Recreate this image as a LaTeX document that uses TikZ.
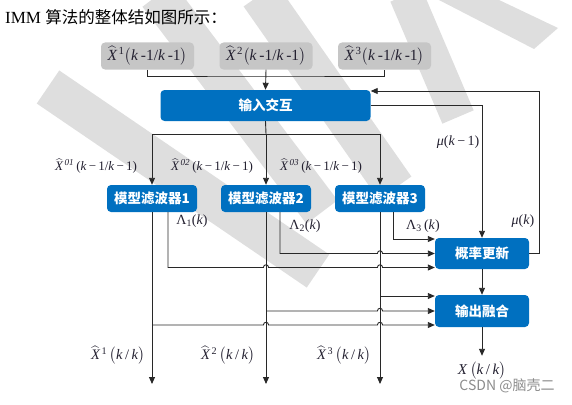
\RequirePackage{fix-cm}
\documentclass[tikz,border=0pt]{standalone}
\usepackage{amsmath}
\usepackage{fontspec}
\setmainfont{Liberation Serif}
\newfontfamily\cjk{Noto Sans CJK SC}
\usetikzlibrary{arrows.meta,calc}
\definecolor{ctrlblue}{RGB}{0,112,192}
\definecolor{inputgray}{RGB}{198,198,198}
\definecolor{wmgray}{RGB}{222,222,222}
\definecolor{linecol}{RGB}{40,40,40}
\definecolor{mathcol}{RGB}{35,32,48}
\definecolor{csdngray}{RGB}{140,140,140}

\newcommand{\hatX}[1]{$\widehat{\textit{X}}\kern1.5pt$\textsuperscript{#1}}
\newcommand{\kk}{\textit{k}}

\tikzset{
  inbox/.style={fill=inputgray, rounded corners=4pt, minimum width=93pt,
    minimum height=27pt, inner sep=0pt, text=mathcol, font=\fontsize{15.5}{17}\selectfont},
  blkbox/.style={fill=ctrlblue, text=white, rounded corners=4pt, inner sep=0pt,
    font=\cjk\bfseries\fontsize{13.5}{15}\selectfont},
  lbl/.style={text=mathcol, inner sep=0pt, font=\fontsize{14}{16}\selectfont},
  flow/.style={draw=linecol, line width=0.9pt},
  hop/.style={insert path={-- ($(#1)+(-2.6,0)$)
    .. controls +(0,-3.6) and +(0,-3.6) .. ($(#1)+(2.6,0)$)}},
}

\begin{document}
\begin{tikzpicture}[x=1pt, y=-1pt, >={Triangle[length=7pt,width=6pt]}]
  \useasboundingbox (0,0) rectangle (572,404);

  %% ── Watermark stripes ───────────────────────────────────────────
  \draw[line width=40pt, wmgray] (48,87) -- (318,271);
  \draw[line width=39pt, wmgray] (158,-5) -- (322,212);
  \draw[line width=40pt, wmgray] (260,-5) -- (395,188);
  \draw[line width=34pt, wmgray] (406,-5) -- (458,117);
  \fill[wmgray] (437,-1) -- (497,-1) -- (558,28) -- (534,49) -- cycle;

  %% ── Title ───────────────────────────────────────────────────────
  \node[anchor=west, inner sep=0pt] (title) at (5,17)
    {\fontsize{17}{19}\selectfont IMM {\cjk\fontsize{16.5}{19}\selectfont 算法的整体结如图所示：}};

  %% ── Previous estimates ──────────────────────────────────────────
  \node[inbox] (in1) at (147.5,56) {\hatX{1}$\big($\kk\,-1/\kk\,-1$\big)$};
  \node[inbox] (in2) at (266,56)   {\hatX{2}$\big($\kk\,-1/\kk\,-1$\big)$};
  \node[inbox] (in3) at (384.5,56) {\hatX{3}$\big($\kk\,-1/\kk\,-1$\big)$};

  %% ── Blocks ──────────────────────────────────────────────────────
  \node[blkbox, minimum width=210pt, minimum height=31pt] (mix) at (265.5,105.5) {输入交互};
  \node[blkbox, minimum width=90pt, minimum height=27pt] (f1) at (152,198.5) {模型滤波器1};
  \node[blkbox, minimum width=90pt, minimum height=27pt] (f2) at (266,198.5) {模型滤波器2};
  \node[blkbox, minimum width=90pt, minimum height=27pt] (f3) at (380,198.5) {模型滤波器3};
  \node[blkbox, minimum width=94pt, minimum height=31pt] (prob) at (482,253.5) {概率更新};
  \node[blkbox, minimum width=94pt, minimum height=32pt] (fuse) at (482,311) {输出融合};

  %% ── Helper points ───────────────────────────────────────────────
  \coordinate (topbus) at (266,76);
  \coordinate (bus) at (266,134);
  \coordinate (bot) at (0,384);
  \coordinate (t1) at ([xshift=16pt]f1.south);
  \coordinate (t2) at ([xshift=14pt]f2.south);
  \coordinate (t3) at ([xshift=13pt]f3.south);
  \coordinate (lam3) at ([yshift=14.5pt]prob.west);
  \coordinate (lam2) at (prob.west);
  \coordinate (lam1) at ([yshift=-14pt]prob.west);
  \coordinate (fz3) at ([yshift=15pt]fuse.west);
  \coordinate (fz2) at (fuse.west);
  \coordinate (fz1) at ([yshift=-14pt]fuse.west);

  %% ── Input interaction ───────────────────────────────────────────
  \draw[flow] (in1.south) |- (topbus) -| (in3.south);
  \draw[flow,->] (in2.south) -- (mix.north);
  \draw[flow,->] (mix.east) -| (prob.north);
  \draw[flow,->] (prob.east) -- ++(10,0) |- ([yshift=14.5pt]mix.east);

  \draw[flow] (mix.south) -- (bus);
  \draw[flow,->] (bus) -| (f1.north);
  \draw[flow,->] (bus) -- (f2.north);
  \draw[flow,->] (bus) -| (f3.north);

  %% ── Likelihoods to probability update ──────────────────────────
  \draw[flow,->] (t3) |- (lam3);
  \draw[flow,->] (t2) -- (t2 |- lam2) [hop=f3.south |- lam2] -- (lam2);
  \draw[flow,->] (t1) -- (t1 |- lam1) [hop=f2.south |- lam1] [hop=f3.south |- lam1] -- (lam1);

  %% ── Filter outputs ──────────────────────────────────────────────
  \draw[flow,->] (f1.south) -- (f1.south |- bot);
  \draw[flow,->] (f2.south) -- (f2.south |- bot);
  \draw[flow,->] (f3.south) -- (f3.south |- bot);
  \draw[flow,->] (f3.south |- fz3) -- (fz3);
  \draw[flow,->] (f2.south |- fz2) [hop=f3.south |- fz2] -- (fz2);
  \draw[flow,->] (f1.south |- fz1) [hop=f2.south |- fz1] [hop=f3.south |- fz1] -- (fz1);

  \draw[flow,->] (prob.south) -- (fuse.north);

  %% ── Labels ──────────────────────────────────────────────────────
  \node[lbl, font=\fontsize{13}{15}\selectfont] (xo1) at (96,166)  {\hatX{\textit{01}}\,(\kk\,−\,1/\kk\,−\,1)};
  \node[lbl, font=\fontsize{13}{15}\selectfont] (xo2) at (212,166) {\hatX{\textit{02}}\,(\kk\,−\,1/\kk\,−\,1)};
  \node[lbl, font=\fontsize{13}{15}\selectfont] (xo3) at (321,166) {\hatX{\textit{03}}\,(\kk\,−\,1/\kk\,−\,1)};

  \node[lbl] (mu1) at (458,142) {\textit{μ}(\kk\,−\,1)};
  \node[lbl] (mu) at (523,221) {\textit{μ}(\kk)};
  \node[lbl] (la1) at (192,221) {Λ\textsubscript{1}(\kk)};
  \node[lbl] (la2) at (305,226) {Λ\textsubscript{2}(\kk)};
  \node[lbl] (la3) at (423,226) {Λ\textsubscript{3}\,(\kk)};

  \node[lbl, font=\fontsize{14.5}{16}\selectfont] (xe1) at (118,355) {\hatX{1}\,$\big($\kk\,/\,\kk$\big)$};
  \node[lbl, font=\fontsize{14.5}{16}\selectfont] (xe2) at (228,355) {\hatX{2}\,$\big($\kk\,/\,\kk$\big)$};
  \node[lbl, font=\fontsize{14.5}{16}\selectfont] (xe3) at (344,355) {\hatX{3}\,$\big($\kk\,/\,\kk$\big)$};

  \node[lbl, font=\fontsize{15}{17}\selectfont] (xkk) at (482,371) {\textit{X}\,$\big($\kk\,/\,\kk$\big)$};
  \draw[flow,->] (fuse.south) -- ([yshift=6pt]xkk.north);

  \node[text=csdngray, inner sep=0pt, font=\cjk\fontsize{14}{16}\selectfont] (csdn) at (507,386) {CSDN @脑壳二};

\end{tikzpicture}
\end{document}
